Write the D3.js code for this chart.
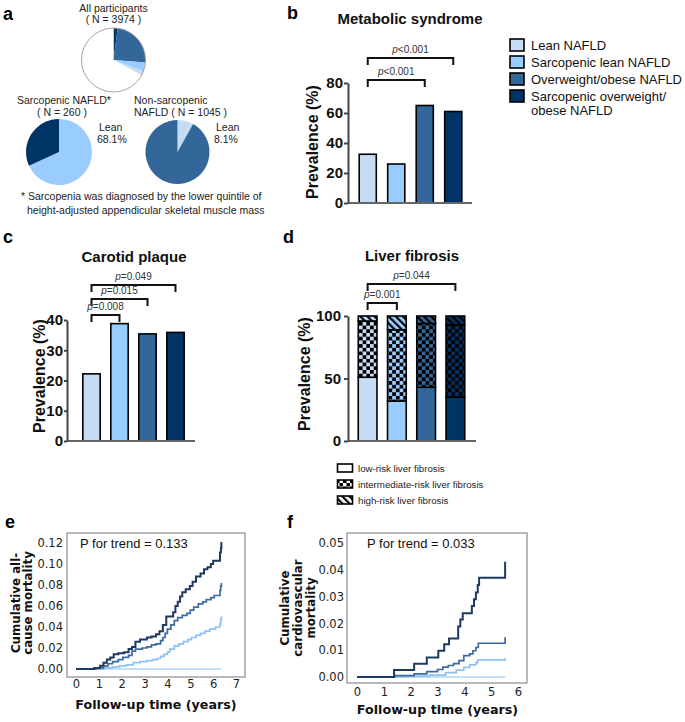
<!DOCTYPE html>
<html><head><meta charset="utf-8">
<script src="https://cdn.jsdelivr.net/npm/d3@7"></script>
<style>body{margin:0;background:#fff} svg{display:block}</style>
</head><body><svg id="c" width="685" height="722"></svg>
<script>
// ---------------- DATA ----------------
const groups = ["Lean NAFLD","Sarcopenic lean NAFLD","Overweight/obese NAFLD","Sarcopenic overweight/obese NAFLD"];
const groupColors = ["#c6dcf5","#99ccff","#336699","#003366"];
// all participants pie, clockwise from 12 o'clock: sarc. overweight, overweight, sarc. lean, lean, non-NAFLD
const allParticipants = [83, 960, 177, 85, 2669];
const allParticipantsGroup = [3, 2, 1, 0, -1];
const sarcopenicPie = [68.1, 31.9];      // lean, overweight
const nonSarcopenicPie = [8.1, 91.9];    // lean, overweight
const metSyn = [32.5, 26, 65, 61];
const metTicks = [0, 20, 40, 60, 80];
const metBrackets = [[0, 3, "<0.001"], [0, 2, "<0.001"]];
const plaque = [22.2, 38.8, 35.4, 35.9];
const plaqueTicks = [0, 10, 20, 30, 40];
const plaqueBrackets = [[0, 3, "=0.049"], [0, 2, "=0.015"], [0, 1, "=0.008"]];
const fibLow = [51, 32, 43, 35];
const fibInter = [45, 57, 51, 58];
const fibHigh = [4, 11, 6, 7];
const fibTicks = [0, 50, 100];
const fibBrackets = [[0, 3, "=0.044"], [0, 1, "=0.001"]];
const fibLegend = ["low-risk liver fibrosis", "intermediate-risk liver fibrosis", "high-risk liver fibrosis"];

const kmColors = ["#b4d4f2", "#8ec2f2", "#3e6a9e", "#1f3a60"];
// all-cause mortality (time in years, cumulative value)
const allLean = [[0,0],[6.36,0]];
const allSarcLean = [[0,0],[1.2,0.001],[1.6,0.002],[1.9,0.003],[2.2,0.004],[2.5,0.006],[2.8,0.007],[3.1,0.008],[3.35,0.009],[3.55,0.010],[3.7,0.012],[3.85,0.014],[4.0,0.016],[4.1,0.019],[4.3,0.022],[4.5,0.024],[4.7,0.026],[4.9,0.028],[5.05,0.030],[5.25,0.032],[5.45,0.034],[5.65,0.036],[5.85,0.038],[6.1,0.040],[6.3,0.043],[6.33,0.047],[6.36,0.050]];
const allOver = [[0,0],[0.9,0.001],[1.2,0.003],[1.4,0.005],[1.6,0.007],[1.85,0.009],[2.05,0.011],[2.3,0.013],[2.45,0.017],[2.6,0.019],[2.9,0.020],[3.1,0.021],[3.3,0.023],[3.5,0.024],[3.7,0.027],[3.8,0.030],[3.9,0.034],[4.0,0.038],[4.15,0.042],[4.3,0.046],[4.45,0.049],[4.65,0.051],[4.85,0.053],[5.0,0.056],[5.15,0.059],[5.35,0.062],[5.55,0.064],[5.7,0.066],[5.9,0.068],[6.05,0.070],[6.3,0.075],[6.33,0.079],[6.36,0.082]];
const allSarcOver = [[0,0],[0.8,0.001],[1.05,0.003],[1.2,0.006],[1.35,0.009],[1.5,0.011],[1.65,0.014],[1.85,0.015],[2.1,0.016],[2.3,0.019],[2.45,0.021],[2.6,0.026],[2.8,0.028],[3.1,0.030],[3.3,0.031],[3.5,0.033],[3.65,0.036],[3.8,0.042],[3.95,0.050],[4.25,0.054],[4.35,0.060],[4.45,0.064],[4.55,0.069],[4.65,0.073],[4.8,0.076],[4.98,0.079],[5.1,0.083],[5.25,0.088],[5.45,0.091],[5.6,0.095],[5.75,0.097],[5.9,0.100],[6.0,0.103],[6.3,0.111],[6.34,0.115],[6.36,0.121]];
const allTicksX = [0,1,2,3,4,5,6,7];
const allTicksY = [0,0.02,0.04,0.06,0.08,0.10,0.12];
// cardiovascular mortality
const cvLean = [[0,0],[5.52,0]];
const cvSarcLean = [[0,0],[1.8,0.0003],[2.7,0.0007],[3.3,0.0016],[3.7,0.0026],[3.98,0.0036],[4.2,0.0045],[4.43,0.0054],[4.5,0.0064],[5.52,0.0070]];
const cvOver = [[0,0],[1.4,0.0005],[2.13,0.0012],[2.6,0.0020],[3.0,0.0028],[3.2,0.0037],[3.4,0.0043],[3.6,0.0050],[3.8,0.0061],[3.98,0.0080],[4.2,0.0086],[4.32,0.0098],[4.43,0.0110],[4.52,0.0126],[5.52,0.0148]];
const cvSarcOver = [[0,0],[1.38,0.0026],[2.13,0.0049],[2.6,0.0073],[3.03,0.0098],[3.25,0.0122],[3.43,0.0144],[3.77,0.0188],[3.85,0.0215],[3.94,0.0238],[4.28,0.0265],[4.36,0.0290],[4.43,0.0315],[4.5,0.0343],[4.55,0.0370],[5.52,0.0430]];
const cvTicksX = [0,1,2,3,4,5,6];
const cvTicksY = [0,0.01,0.02,0.03,0.04,0.05];

// ---------------- DRAWING ----------------
const SANS = "'Liberation Sans', Arial, Helvetica, sans-serif";
const DJ = "'DejaVu Sans', Verdana, sans-serif";
const svg = d3.select("#c");
const defs = svg.append("defs");

// panel letters
[["a",3,20],["b",287,19],["c",3,243],["d",283,243],["e",5,528],["f",287,528]].forEach(([t,x,y]) =>
  svg.append("text").attr("x",x).attr("y",y).attr("font-family",SANS).attr("font-weight","bold")
     .attr("font-size",18).text(t));

function txt(x, y, s, o = {}) {
  return svg.append("text").attr("x", x).attr("y", y).attr("font-family", o.family || SANS)
    .attr("font-size", o.size || 10.5).attr("font-weight", o.weight || "normal")
    .attr("text-anchor", o.anchor || "start").attr("fill", o.fill || "#222").text(s);
}

// ---- panel a: pies ----
function drawPie(cx, cy, r, values, colors, outline) {
  const arcs = d3.pie().sort(null).value(d => d)(values);
  const g = svg.append("g").attr("transform", `translate(${cx},${cy})`);
  g.selectAll("path").data(arcs).join("path")
    .attr("d", d3.arc().innerRadius(0).outerRadius(r))
    .attr("fill", (d, i) => colors[i]);
  if (outline) g.append("circle").attr("r", r).attr("fill", "none").attr("stroke", "#999").attr("stroke-width", 0.9);
}
drawPie(113.5, 60, 32, allParticipants, allParticipantsGroup.map(i => i < 0 ? "#fff" : groupColors[i]), true);
drawPie(59, 152, 33, sarcopenicPie, [groupColors[1], groupColors[3]], false);
drawPie(177.5, 152, 32, nonSarcopenicPie, [groupColors[0], groupColors[2]], false);

txt(113.5, 11.5, "All participants", {anchor: "middle"});
txt(113.5, 23, "( N = 3974 )", {anchor: "middle"});
txt(17, 104, "Sarcopenic NAFLD*");
txt(62, 116, "( N = 260 )", {anchor: "middle"});
txt(134, 104, "Non-sarcopenic");
txt(134, 116, "NAFLD ( N = 1045 )");
txt(99, 131, "Lean"); txt(97, 143, "68.1%");
txt(216, 131, "Lean"); txt(214, 143, "8.1%");
txt(21, 200, "* Sarcopenia was diagnosed by the lower quintile of");
txt(27, 214, "height-adjusted appendicular skeletal muscle mass");

// ---- helpers for bar panels ----
function yAxis(y, x, ticks, tickSize, pad) {
  const g = svg.append("g").attr("transform", `translate(${x},0)`)
    .call(d3.axisLeft(y).tickValues(ticks).tickSize(tickSize).tickSizeOuter(0).tickPadding(pad));
  g.select(".domain").attr("stroke", "#444").attr("stroke-width", 2);
  g.selectAll(".tick line").attr("stroke", "#444").attr("stroke-width", 2);
  g.selectAll(".tick text").attr("font-family", SANS).attr("font-weight", "bold").attr("font-size", 15).attr("fill", "#111");
}
function baseLine(x1, x2, y) {
  svg.append("line").attr("x1", x1).attr("x2", x2).attr("y1", y).attr("y2", y).attr("stroke", "#666").attr("stroke-width", 2);
}
function yTitle(x, y, s) {
  svg.append("text").attr("transform", `translate(${x},${y}) rotate(-90)`).attr("text-anchor", "middle")
    .attr("font-family", SANS).attr("font-weight", "bold").attr("font-size", 16).attr("fill", "#111").text(s);
}
function bracket(x, br, y, drop) {
  const x1 = x(groups[br[0]]) + x.bandwidth() / 2, x2 = x(groups[br[1]]) + x.bandwidth() / 2;
  svg.append("path").attr("d", `M${x1},${y + drop}V${y}H${x2}V${y + drop}`)
    .attr("fill", "none").attr("stroke", "#111").attr("stroke-width", 2);
  const t = svg.append("text").attr("x", (x1 + x2) / 2).attr("y", y - 5).attr("text-anchor", "middle")
    .attr("font-family", SANS).attr("font-size", 10).attr("fill", "#333");
  t.append("tspan").attr("font-style", "italic").text("p");
  t.append("tspan").text(br[2]);
}
function bars(x, y, values) {
  svg.append("g").selectAll("rect").data(values).join("rect")
    .attr("x", (d, i) => x(groups[i])).attr("width", x.bandwidth())
    .attr("y", d => y(d)).attr("height", d => y(0) - y(d))
    .attr("fill", (d, i) => groupColors[i]).attr("stroke", "#000").attr("stroke-width", 1.6);
}

// ---- panel b ----
{
  const y = d3.scaleLinear().domain([0, 80]).range([203, 83]);
  const x = d3.scaleBand().domain(groups).range([353.5, 467.5]).paddingInner(0.4).paddingOuter(0.2);
  txt(410, 24, "Metabolic syndrome", {anchor: "middle", weight: "bold", size: 15, fill: "#111"});
  bars(x, y, metSyn);
  baseLine(348, 472, 203);
  yAxis(y, 348, metTicks, 4, 1);
  yTitle(318, 142, "Prevalence (%)");
  bracket(x, metBrackets[0], 58, 7);
  bracket(x, metBrackets[1], 80, 7);
  // legend
  groups.forEach((gname, i) => {
    const cy = 45 + i * 17;
    svg.append("rect").attr("x", 510).attr("y", cy - 6).attr("width", 14).attr("height", 12)
      .attr("fill", groupColors[i]).attr("stroke", "#000").attr("stroke-width", 1.6);
  });
  txt(531, 50, groups[0], {size: 13, fill: "#111"});
  txt(531, 67, groups[1], {size: 13, fill: "#111"});
  txt(531, 84, groups[2], {size: 13, fill: "#111"});
  txt(531, 101, "Sarcopenic overweight/", {size: 13, fill: "#111"});
  txt(531, 115, "obese NAFLD", {size: 13, fill: "#111"});
}

// ---- panel c ----
{
  const y = d3.scaleLinear().domain([0, 40]).range([441, 320]);
  const x = d3.scaleBand().domain(groups).range([77.5, 189.5]).paddingInner(0.38).paddingOuter(0.19);
  txt(134, 262, "Carotid plaque", {anchor: "middle", weight: "bold", size: 15, fill: "#111"});
  bars(x, y, plaque);
  baseLine(67, 195, 441);
  yAxis(y, 67, plaqueTicks, 3, 1);
  yTitle(45, 376, "Prevalence (%)");
  bracket(x, plaqueBrackets[0], 285, 7);
  bracket(x, plaqueBrackets[1], 299, 7);
  bracket(x, plaqueBrackets[2], 315, 7);
}

// ---- panel d ----
function checker(id, bg, fg, s) {
  const p = defs.append("pattern").attr("id", id).attr("patternUnits", "userSpaceOnUse").attr("width", 2 * s).attr("height", 2 * s);
  p.append("rect").attr("width", 2 * s).attr("height", 2 * s).attr("fill", bg);
  p.append("rect").attr("width", s).attr("height", s).attr("fill", fg);
  p.append("rect").attr("x", s).attr("y", s).attr("width", s).attr("height", s).attr("fill", fg);
}
function stripes(id, bg, fg) {
  const p = defs.append("pattern").attr("id", id).attr("patternUnits", "userSpaceOnUse").attr("width", 5).attr("height", 5)
    .attr("patternTransform", "rotate(-45)");
  p.append("rect").attr("width", 5).attr("height", 5).attr("fill", bg);
  p.append("rect").attr("width", 2.2).attr("height", 5).attr("fill", fg);
}
groupColors.forEach((c, i) => { checker("chk" + i, c, "#000", 3.7); stripes("str" + i, c, "#000"); });
checker("chkW", "#000", "#fff", 3.5);
stripes("strW", "#fff", "#000");
{
  const y = d3.scaleLinear().domain([0, 100]).range([441, 316]);
  const x = d3.scaleBand().domain(groups).range([353, 470]).paddingInner(0.36).paddingOuter(0.18);
  txt(412, 261, "Liver fibrosis", {anchor: "middle", weight: "bold", size: 15, fill: "#111"});
  const stackData = groups.map((g, i) => ({g, i, low: fibLow[i], inter: fibInter[i], high: fibHigh[i]}));
  const series = d3.stack().keys(["low", "inter", "high"])(stackData);
  const fills = [i => groupColors[i], i => `url(#chk${i})`, i => `url(#str${i})`];
  series.forEach((s, k) => {
    svg.append("g").selectAll("rect").data(s).join("rect")
      .attr("x", d => x(d.data.g)).attr("width", x.bandwidth())
      .attr("y", d => y(d[1])).attr("height", d => y(d[0]) - y(d[1]))
      .attr("fill", d => fills[k](d.data.i)).attr("stroke", "#000").attr("stroke-width", 1.6);
  });
  baseLine(348, 476, 441);
  yAxis(y, 348, fibTicks, 4, 3);
  yTitle(310, 374, "Prevalence (%)");
  bracket(x, fibBrackets[0], 284, 7);
  bracket(x, fibBrackets[1], 303, 7);
  const legFill = ["#fff", "url(#chkW)", "url(#strW)"];
  fibLegend.forEach((s, i) => {
    const cy = 468 + i * 16;
    svg.append("rect").attr("x", 337.5).attr("y", cy - 4).attr("width", 15).attr("height", 8)
      .attr("fill", legFill[i]).attr("stroke", "#000").attr("stroke-width", 1.6);
    txt(358, cy + 3.5, s, {size: 9.7, fill: "#222"});
  });
}

// ---- KM panels ----
function km(o) {
  const x = d3.scaleLinear().domain(o.xd).range(o.xr);
  const y = d3.scaleLinear().domain(o.yd).range(o.yr);
  svg.append("rect").attr("x", o.box[0]).attr("y", o.box[1]).attr("width", o.box[2] - o.box[0]).attr("height", o.box[3] - o.box[1])
    .attr("fill", "none").attr("stroke", "#8a8a8a").attr("stroke-width", 1.2);
  const gy = svg.append("g").attr("transform", `translate(${o.box[0]},0)`)
    .call(d3.axisLeft(y).tickValues(o.yt).tickFormat(d3.format(".2f")).tickSize(0).tickPadding(o.ypad));
  const gx = svg.append("g").attr("transform", `translate(0,${o.box[3]})`)
    .call(d3.axisBottom(x).tickValues(o.xt).tickFormat(d3.format("d")).tickSize(0).tickPadding(o.xpad));
  [gx, gy].forEach(g => {
    g.select(".domain").remove();
    g.selectAll("text").attr("font-family", DJ).attr("font-size", 11.5).attr("fill", "#222");
  });
  const line = d3.line().x(d => x(d[0])).y(d => y(d[1])).curve(d3.curveStepAfter);
  o.series.forEach((s, i) => svg.append("path").attr("d", line(s)).attr("fill", "none")
    .attr("stroke", kmColors[i]).attr("stroke-width", i === 3 ? 2 : 1.7));
  txt(o.pt[0], o.pt[1], o.ptext, {size: 13, fill: "#111"});
  txt(o.xtitle[0], o.xtitle[1], "Follow-up time (years)", {family: DJ, size: 12.7, weight: "bold", anchor: "middle", fill: "#111"});
  o.ytitle.forEach(([s, xx]) => svg.append("text").attr("transform", `translate(${xx},${o.ytitleY}) rotate(-90)`)
    .attr("text-anchor", "middle").attr("font-family", DJ).attr("font-weight", "bold").attr("font-size", 11.8)
    .attr("fill", "#111").text(s));
}
km({xd: [0, 7], xr: [76, 236], yd: [0, 0.12], yr: [669, 543], box: [67, 533, 245, 677],
    yt: allTicksY, xt: allTicksX, ypad: 4, xpad: 3,
    series: [allLean, allSarcLean, allOver, allSarcOver],
    pt: [80, 548], ptext: "P for trend = 0.133", xtitle: [156, 709],
    ytitle: [["Cumulative all-", 20], ["cause mortality", 32]], ytitleY: 603});
km({xd: [0, 6], xr: [357, 518], yd: [0, 0.05], yr: [677, 543], box: [347, 533, 527, 683],
    yt: cvTicksY, xt: cvTicksX, ypad: 3, xpad: 5,
    series: [cvLean, cvSarcLean, cvOver, cvSarcOver],
    pt: [367, 548], ptext: "P for trend = 0.033", xtitle: [437.5, 714],
    ytitle: [["Cumulative", 289], ["cardiovascular", 302], ["mortality", 315]], ytitleY: 608});
</script></body></html>
